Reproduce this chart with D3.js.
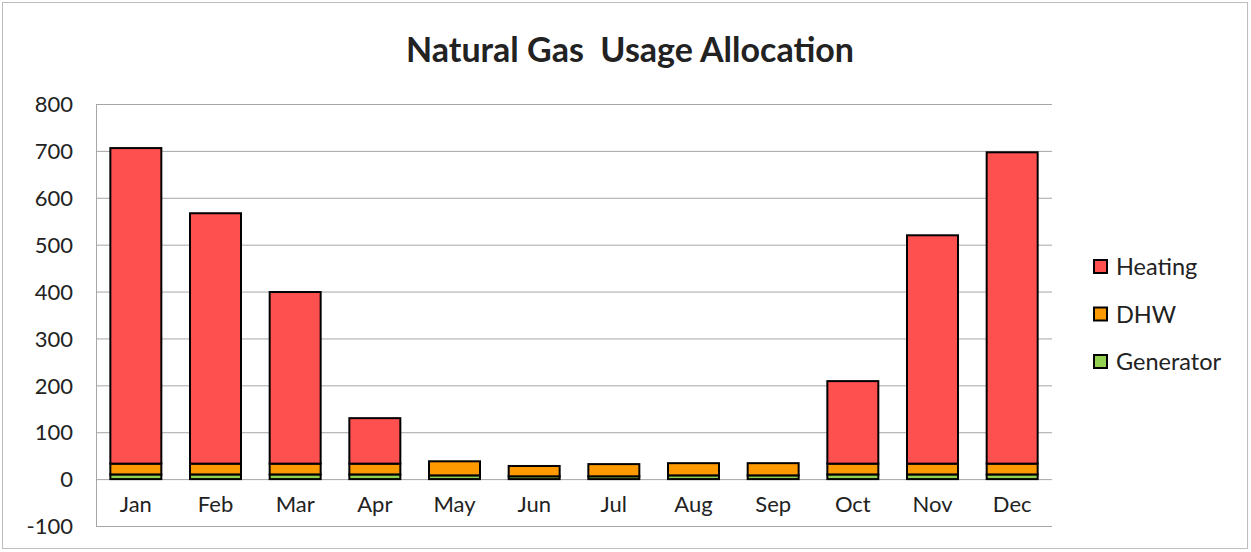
<!DOCTYPE html>
<html><head><meta charset="utf-8">
<script src="https://cdn.jsdelivr.net/npm/d3@7"></script>
<style>body{margin:0;background:#fff}svg{display:block}text{font-family:Lato,"Open Sans",sans-serif;fill:#222}</style>
</head><body><svg id="c" width="1251" height="552"></svg>
<script>
const months = ["Jan","Feb","Mar","Apr","May","Jun","Jul","Aug","Sep","Oct","Nov","Dec"];
const generator = [10,10,10,10,8,6,6,8,8,10,10,10];
const dhw = [23,23,23,23,30,22,26,26,26,23,23,23];
const heating = [673,534,366,97,0,0,0,0,0,176,487,664];
const seriesNames = ["Generator","DHW","Heating"];
const seriesColors = {"Heating":"#FF5050","DHW":"#FF9900","Generator":"#92D050"};
const yTicks = [-100,0,100,200,300,400,500,600,700,800];

const svg = d3.select("#c");
svg.append("rect").attr("x",2.5).attr("y",2.5).attr("width",1245).attr("height",546)
  .attr("fill","#fff").attr("stroke","#bdbdbd");

const L=96,R=1052,T=104,B=526;
const x = d3.scaleBand().domain(months).range([L,R]).paddingInner(0.36).paddingOuter(0.18);
const y = d3.scaleLinear().domain([-100,800]).range([B,T]);

svg.append("g").selectAll("line").data(yTicks).join("line")
  .attr("x1",L).attr("x2",R).attr("y1",d=>y(d)+0.5).attr("y2",d=>y(d)+0.5)
  .attr("stroke","#a6a6a6").attr("stroke-width",1);
svg.append("line").attr("x1",L+0.5).attr("x2",L+0.5).attr("y1",T).attr("y2",B)
  .attr("stroke","#a6a6a6");

const yAxis = d3.axisLeft(y).tickValues(yTicks).tickFormat(d=>String(d)).tickSize(0).tickPadding(0);
const ga = svg.append("g").attr("transform",`translate(73,0)`).call(yAxis);
ga.select(".domain").remove();
ga.selectAll("text").attr("font-size",22).attr("font-family","Lato, sans-serif").attr("fill","#222").attr("dy","0.35em");

const data = months.map((m,i)=>({month:m,Generator:generator[i],DHW:dhw[i],Heating:heating[i]}));
const stack = d3.stack().keys(seriesNames)(data);
svg.append("g").selectAll("g").data(stack).join("g")
  .attr("fill",d=>seriesColors[d.key])
  .selectAll("rect").data(d=>d.filter(p=>p[1]-p[0]>0)).join("rect")
  .attr("x",d=>x(d.data.month)).attr("width",x.bandwidth())
  .attr("y",d=>y(d[1])).attr("height",d=>y(d[0])-y(d[1]))
  .attr("stroke","#000").attr("stroke-width",2);

const xAxis = d3.axisBottom(x).tickSize(0).tickPadding(0);
const gx = svg.append("g").attr("transform",`translate(0,${y(0)})`).call(xAxis);
gx.select(".domain").remove();
gx.selectAll("text").attr("font-size",22).attr("font-family","Lato, sans-serif").attr("fill","#222").attr("dy","1.5em");

svg.append("text").attr("x",630).attr("y",62).attr("text-anchor","middle")
  .attr("font-size",34).attr("font-weight","bold").attr("fill","#000")
  .style("white-space","pre").text("Natural Gas  Usage Allocation");

const legendOrder = ["Heating","DHW","Generator"];
const lg = svg.append("g").selectAll("g").data(legendOrder).join("g")
  .attr("transform",(d,i)=>`translate(1094,${260+i*47.5})`);
lg.append("rect").attr("width",13).attr("height",13).attr("fill",d=>seriesColors[d])
  .attr("stroke","#000").attr("stroke-width",2);
lg.append("text").attr("x",22).attr("y",7).attr("dy","0.35em").attr("font-size",23.5)
  .attr("fill","#222").text(d=>d);
</script></body></html>
